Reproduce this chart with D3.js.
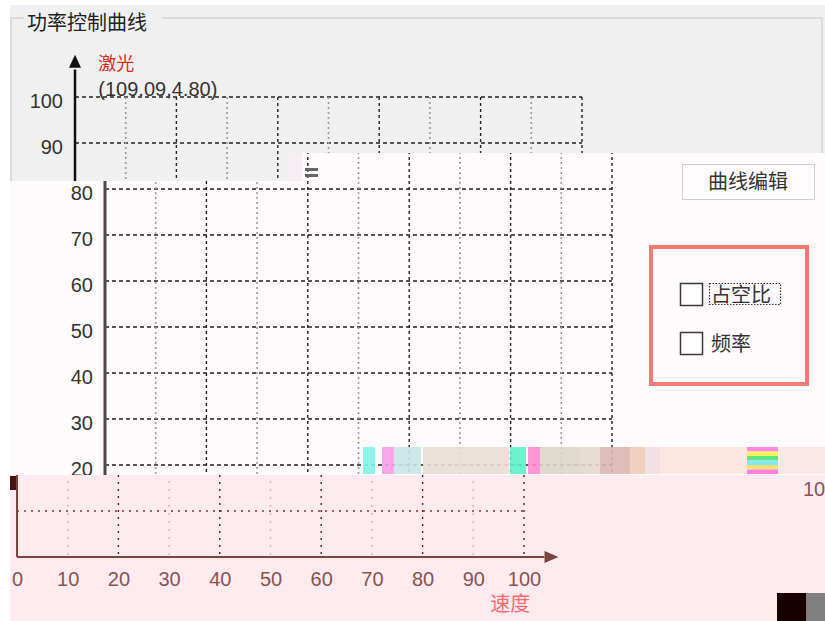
<!DOCTYPE html>
<html>
<head>
<meta charset="utf-8">
<script src="https://cdn.jsdelivr.net/npm/d3@7/dist/d3.min.js"></script>
<style>
  body { margin: 0; background: #fff; }
  svg { display: block; font-family: "Liberation Sans", Arial, sans-serif; }
  .cjk { font-family: "Noto Sans CJK SC", sans-serif; }
</style>
</head>
<body>
<div id="chart"></div>
<script>
// values
var speedTicks = [0, 10, 20, 30, 40, 50, 60, 70, 80, 90, 100];
var laserTicks = [10, 20, 30, 40, 50, 60, 70, 80, 90, 100];
var gridSpeed = [10, 20, 30, 40, 50, 60, 70, 80, 90, 100];
var titleText = "功率控制曲线";
var yName = "激光";
var xName = "速度";
var cursorText = "(109.09,4.80)";
var buttonText = "曲线编辑";
var checkOptions = ["占空比", "频率"];

var width = 825,
    height = 621;

var svg = d3.select("#chart").append("svg")
    .attr("width", width)
    .attr("height", height);

var defs = svg.append("defs");

// same y scale for the whole picture, the slices only move sideways
var y = d3.scaleLinear().domain([0, 100]).range([557, 97]);

// the picture is three horizontal slices of one chart
// (each slice only gets the labels that show inside it)
var slices = [
    { id: "top", off: 75, bg: "#f0f0f0",
      clip: [[10, 5], [825, 5], [825, 153], [290, 153], [290, 181], [10, 181]],
      axis: "#111", text: "#333", hgrid: "#222", dark: "#222", light: "#9a9a9a",
      hdash: "4,3", ddash: "3,3", ldash: "2,3", axisW: 2.5,
      yLabels: [90, 100], xLabels: [], names: true },
    { id: "mid", off: 105, bg: "#fffafc",
      clip: [[10, 181], [290, 181], [290, 153], [825, 153], [825, 475], [10, 475]],
      axis: "#504646", text: "#333", hgrid: "#222", dark: "#222", light: "#9a9a9a",
      hdash: "4,3", ddash: "3,3", ldash: "2,3", axisW: 3,
      yLabels: [20, 30, 40, 50, 60, 70, 80], xLabels: [], names: false },
    { id: "bot", off: 17, bg: "#ffebef",
      clip: [[10, 475], [825, 475], [825, 621], [10, 621]],
      axis: "#7d4343", text: "#8a5252", hgrid: "#7a3a3a", dark: "#5a2020", light: "#eab0b4",
      hdash: "2,5", ddash: "2,5", ldash: "2,6", axisW: 2,
      yLabels: [], xLabels: speedTicks, names: false }
];

slices.forEach(function (s) {
    defs.append("clipPath").attr("id", "clip-" + s.id)
        .append("polygon").attr("points", s.clip.map(function (p) { return p.join(","); }).join(" "));

    var x = d3.scaleLinear().domain([0, 100]).range([s.off, s.off + 507]);

    var g = svg.append("g").attr("clip-path", "url(#clip-" + s.id + ")");

    g.append("rect")
        .attr("x", 0).attr("y", 0).attr("width", width).attr("height", height)
        .attr("fill", s.bg);

    // horizontal grid
    g.selectAll(".hgrid")
        .data(laserTicks)
        .enter().append("line")
        .attr("x1", x(0)).attr("x2", x(100))
        .attr("y1", function (d) { return y(d); })
        .attr("y2", function (d) { return y(d); })
        .attr("stroke", s.hgrid)
        .attr("stroke-width", 1.3)
        .attr("stroke-dasharray", s.hdash);

    // vertical grid, every other line is lighter
    g.selectAll(".vgrid")
        .data(gridSpeed)
        .enter().append("line")
        .attr("x1", function (d) { return x(d); })
        .attr("x2", function (d) { return x(d); })
        .attr("y1", y(100)).attr("y2", y(0))
        .attr("stroke", function (d) { return d % 20 === 0 ? s.dark : s.light; })
        .attr("stroke-width", function (d) { return d % 20 === 0 ? 1.4 : 1.6; })
        .attr("stroke-dasharray", function (d) { return d % 20 === 0 ? s.ddash : s.ldash; });

    // axes lines with arrows
    g.append("line")
        .attr("x1", x(0)).attr("x2", x(0))
        .attr("y1", y(0)).attr("y2", y(106))
        .attr("stroke", s.axis).attr("stroke-width", s.axisW);
    g.append("path")
        .attr("d", "M" + x(0) + "," + y(109.2) + "l-6,13h12z")
        .attr("fill", s.axis);
    g.append("line")
        .attr("x1", x(0)).attr("x2", x(104))
        .attr("y1", y(0)).attr("y2", y(0))
        .attr("stroke", s.axis).attr("stroke-width", s.axisW);
    g.append("path")
        .attr("d", "M" + x(106.8) + "," + y(0) + "l-14,-6v12z")
        .attr("fill", s.axis);

    // tick labels
    var yAxis = g.append("g")
        .attr("transform", "translate(" + x(0) + ",0)")
        .call(d3.axisLeft(y).tickValues(s.yLabels).tickSize(0).tickPadding(12));
    var xAxis = g.append("g")
        .attr("transform", "translate(0," + y(0) + ")")
        .call(d3.axisBottom(x).tickValues(s.xLabels).tickSize(0).tickPadding(15));
    [yAxis, xAxis].forEach(function (a) {
        a.select(".domain").remove();
        a.selectAll("text")
            .attr("fill", s.text)
            .style("font-family", "'Liberation Sans', Arial, sans-serif")
            .style("font-size", "20px");
    });
    yAxis.selectAll("text").attr("dy", "0.52em");

    if (s.names) {
        g.append("text")
            .attr("class", "cjk")
            .attr("x", x(4.6)).attr("y", y(105.8))
            .attr("fill", "#e02828")
            .style("font-size", "18px")
            .text(yName);
        g.append("text")
            .attr("x", x(4.6)).attr("y", y(100.3))
            .attr("fill", "#333")
            .style("font-size", "20px")
            .text(cursorText);
    }
    if (s.xLabels.length) {
        g.append("text")
            .attr("class", "cjk")
            .attr("x", x(97.3)).attr("y", y(-11.8))
            .attr("text-anchor", "middle")
            .attr("fill", "#ff6b6b")
            .style("font-size", "20px")
            .text(xName);
    }
});

// group box frame and title (top slice)
var frame = svg.append("g").attr("clip-path", "url(#clip-top)");
frame.append("path")
    .attr("d", "M11,181V18H24M162,18H822V181")
    .attr("fill", "none")
    .attr("stroke", "#d6d6d6")
    .attr("stroke-width", 1.5);
frame.append("text")
    .attr("class", "cjk")
    .attr("x", 27).attr("y", 30)
    .attr("fill", "#222")
    .style("font-size", "20px")
    .text(titleText);

// button
svg.append("rect")
    .attr("x", 682.5).attr("y", 164.5).attr("width", 132).attr("height", 35)
    .attr("fill", "#fffcfd").attr("stroke", "#cfcfcf");
svg.append("text")
    .attr("class", "cjk")
    .attr("x", 748).attr("y", 189)
    .attr("text-anchor", "middle")
    .attr("fill", "#333")
    .style("font-size", "20px")
    .text(buttonText);

// highlighted options box
svg.append("rect")
    .attr("x", 651).attr("y", 247).attr("width", 156).attr("height", 137)
    .attr("fill", "none").attr("stroke", "#f47a76").attr("stroke-width", 4);

var opt = svg.selectAll(".opt")
    .data(checkOptions)
    .enter().append("g")
    .attr("transform", function (d, i) { return "translate(0," + (i * 49) + ")"; });
opt.append("rect")
    .attr("x", 680.5).attr("y", 283.5).attr("width", 22).attr("height", 22)
    .attr("fill", "#fff").attr("stroke", "#3a3a3a").attr("stroke-width", 1.5);
opt.append("text")
    .attr("class", "cjk")
    .attr("x", 711).attr("y", 302)
    .attr("fill", "#333")
    .style("font-size", "20px")
    .text(function (d) { return d; });
svg.append("rect")
    .attr("x", 709.5).attr("y", 283.5).attr("width", 71).attr("height", 21)
    .attr("fill", "none").attr("stroke", "#333").attr("stroke-width", 1.2)
    .attr("stroke-dasharray", "1.5,1.5");

// screen capture noise band
var noise = [
    [363, 12, "#7ff5e6"], [382, 12, "#ff9ce8"], [394, 27, "#c6e6e6"], [423, 86, "#e8dfd4"],
    [510, 16, "#5ff0c8"], [528, 12, "#ff8ad0"], [540, 40, "#ddd5c8"], [580, 20, "#e4d8cb"],
    [600, 30, "#dbb6b4"], [630, 15, "#ecccb8"], [645, 15, "#f2dde0"], [660, 87, "#fde2dd"],
    [778, 47, "#fde6e6"]
];
svg.selectAll(".noise")
    .data(noise)
    .enter().append("rect")
    .attr("x", function (d) { return d[0]; })
    .attr("y", 447).attr("width", function (d) { return d[1]; }).attr("height", 27)
    .attr("fill", function (d) { return d[2]; })
    .attr("opacity", 0.9);
var stripes = ["#ff88e0", "#f4f060", "#60e880", "#80e8f0", "#ffe070", "#ff80e0"];
svg.selectAll(".stripe")
    .data(stripes)
    .enter().append("rect")
    .attr("x", 747).attr("y", function (d, i) { return 447 + i * 4.5; })
    .attr("width", 31).attr("height", 4.5)
    .attr("fill", function (d) { return d; });
svg.append("rect").attr("x", 285).attr("y", 153).attr("width", 17).attr("height", 28).attr("fill", "#f6eef2");
svg.append("rect").attr("x", 305).attr("y", 168).attr("width", 13).attr("height", 3).attr("fill", "#666");
svg.append("rect").attr("x", 305).attr("y", 174).attr("width", 13).attr("height", 3).attr("fill", "#666");

// stray bits along the edges
svg.append("rect").attr("x", 10).attr("y", 476).attr("width", 6).attr("height", 14).attr("fill", "#4a1212");
svg.append("text").attr("x", 803).attr("y", 496).attr("fill", "#8a5252").style("font-size", "20px").text("10");
svg.append("rect").attr("x", 777).attr("y", 593).attr("width", 29).attr("height", 28).attr("fill", "#1c0000");
svg.append("rect").attr("x", 806).attr("y", 593).attr("width", 19).attr("height", 28).attr("fill", "#808080");
</script>
</body>
</html>
